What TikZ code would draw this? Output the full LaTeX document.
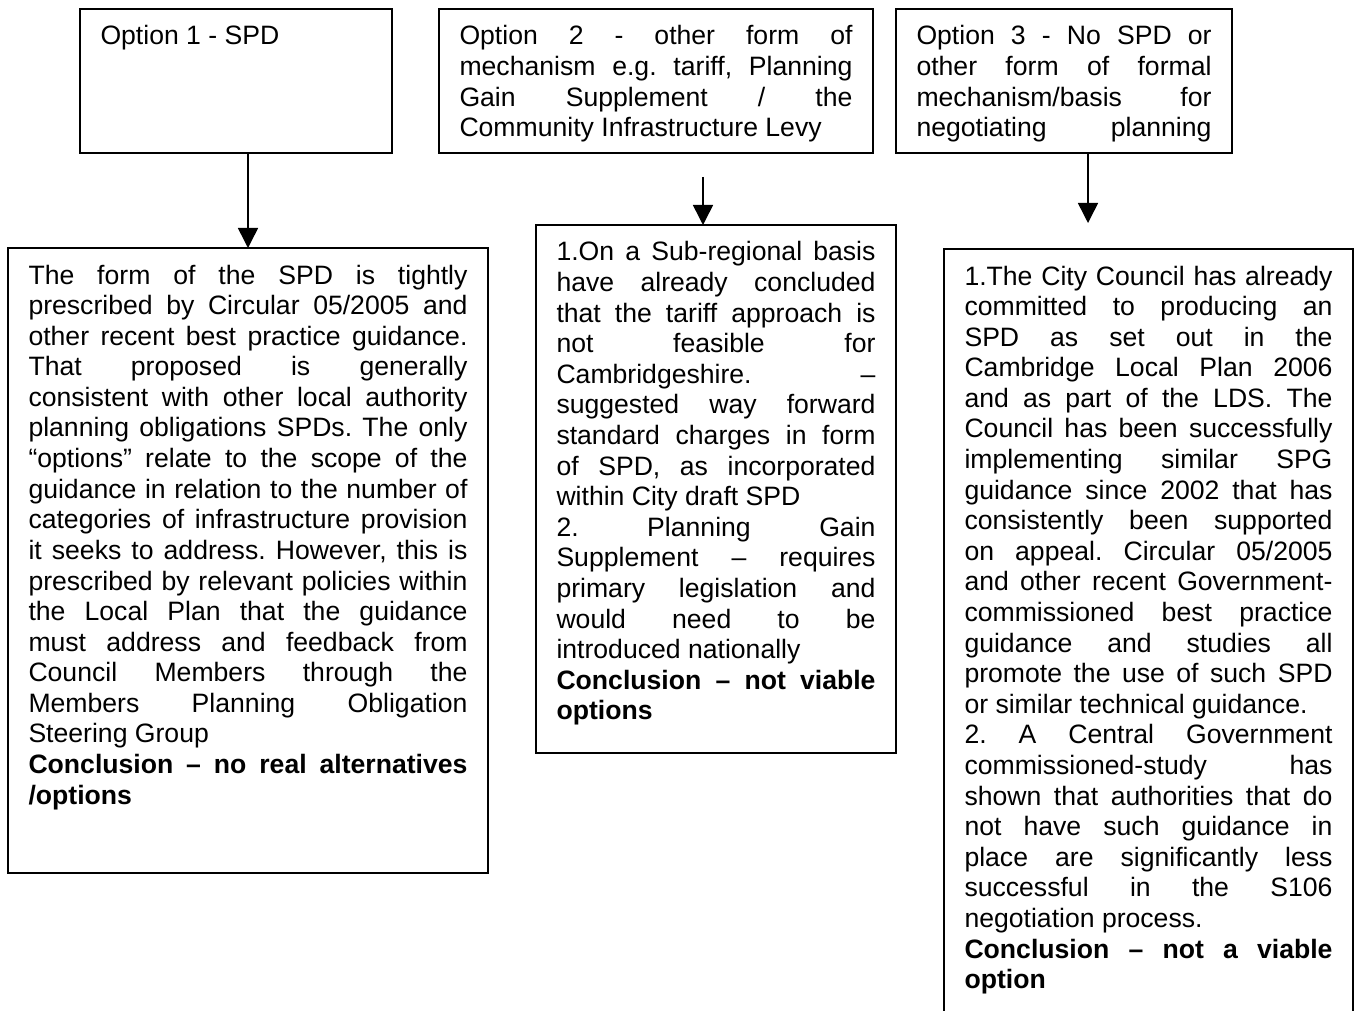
\documentclass[tikz,border=0pt]{standalone}
\usepackage{fontspec}
\setmainfont{Liberation Sans}
\usetikzlibrary{positioning,arrows.meta}
\hyphenpenalty=10000
\exhyphenpenalty=10000
\tolerance=10000
\frenchspacing
\tikzstyle{optbox}=[rectangle, draw=black, line width=1.8pt, inner xsep=20.5pt, inner ysep=16pt, outer sep=0pt,
anchor=north west, align=justify, text height=20pt, font=\fontsize{26.6pt}{30.6pt}\selectfont]
\tikzstyle{resbox}=[optbox]
\tikzstyle{arr}=[-{Triangle[width=20pt,length=20pt]}, line width=1.5pt]

\begin{document}
\begin{tikzpicture}[x=1pt, y=1pt]

\useasboundingbox (0,0) rectangle (1355,-1011);
\clip (0,0) rectangle (1355,-1011);

% Options
    \node (opt1) [optbox, text width=271pt, text depth=92pt] at (80,-9) {Option 1 - SPD};
    \node (opt2) [optbox, text width=393pt, text depth=92pt] at (439,-9)
        {Option 2 - other form of\linebreak mechanism e.g. tariff, Planning\linebreak Gain Supplement / the\linebreak Community Infrastructure Levy};
    \node (opt3) [optbox, text width=295pt, text depth=92pt] at (896,-9)
        {Option 3 - No SPD or\linebreak other form of formal\linebreak mechanism/basis for\linebreak negotiating\hfill planning};

% Appraisal of each option
    \node (res1) [resbox, text width=439pt, text depth=573pt] at (8,-248)
        {The form of the SPD is tightly\linebreak
        prescribed by Circular 05/2005 and\linebreak
        other recent best practice guidance.\linebreak
        That proposed is generally\linebreak
        consistent with other local authority\linebreak
        planning obligations SPDs. The only\linebreak
        “options” relate to the scope of the\linebreak
        guidance in relation to the number of\linebreak
        categories of infrastructure provision\linebreak
        it seeks to address. However, this is\linebreak
        prescribed by relevant policies within\linebreak
        the Local Plan that the guidance\linebreak
        must address and feedback from\linebreak
        Council Members through the\linebreak
        Members Planning Obligation\linebreak
        Steering Group\par
        \textbf{Conclusion – no real alternatives\linebreak /options}};

    \node (res2) [resbox, text width=319pt, text depth=476pt] at (536,-225)
        {1.On a Sub-regional basis\linebreak
        have already concluded\linebreak
        that the tariff approach is\linebreak
        not feasible for\linebreak
        Cambridgeshire. –\linebreak
        suggested way forward\linebreak
        standard charges in form\linebreak
        of SPD, as incorporated\linebreak
        within City draft SPD\par
        2. Planning Gain\linebreak
        Supplement – requires\linebreak
        primary legislation and\linebreak
        would need to be\linebreak
        introduced nationally\par
        \textbf{Conclusion – not viable\linebreak options}};

    \node (res3) [resbox, text width=368pt, text depth=739pt] at (944,-249)
        {1.The City Council has already\linebreak
        committed to producing an\linebreak
        SPD as set out in the\linebreak
        Cambridge Local Plan 2006\linebreak
        and as part of the LDS. The\linebreak
        Council has been successfully\linebreak
        implementing similar SPG\linebreak
        guidance since 2002 that has\linebreak
        consistently been supported\linebreak
        on appeal. Circular 05/2005\linebreak
        and other recent Government-\linebreak
        commissioned best practice\linebreak
        guidance and studies all\linebreak
        promote the use of such SPD\linebreak
        or similar technical guidance.\par
        2. A Central Government\linebreak
        commissioned-study has\linebreak
        shown that authorities that do\linebreak
        not have such guidance in\linebreak
        place are significantly less\linebreak
        successful in the S106\linebreak
        negotiation process.\par
        \textbf{Conclusion – not a viable\linebreak option}};

% Arrows
 \coordinate (a2s) at (703,-177);
 \coordinate (a3e) at (1088,-223);
 \draw[arr] (opt1.south -| res1.north) -- (res1.north);
 \draw[arr] (a2s) -- (a2s |- res2.north);
 \draw[arr] (a3e |- opt3.south) -- (a3e);

\end{tikzpicture}
\end{document}
